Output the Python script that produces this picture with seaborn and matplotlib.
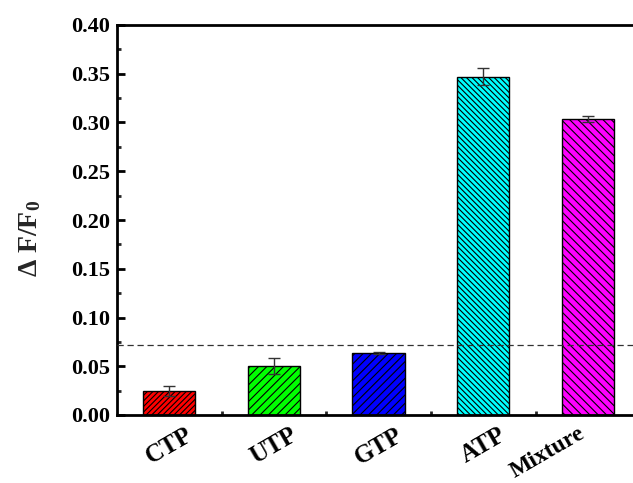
import matplotlib
matplotlib.use("Agg")
import matplotlib.pyplot as plt
import seaborn as sns
import pandas as pd
from matplotlib.ticker import MultipleLocator, FixedLocator, FormatStrFormatter

categories = ["CTP", "UTP", "GTP", "ATP", "Mixture"]
values = [0.025, 0.050, 0.064, 0.347, 0.304]
errors = [0.005, 0.008, 0.001, 0.009, 0.003]
colors = ["#ff0000", "#00ff00", "#0000ff", "#00ffff", "#ff00ff"]
hatches = ["//////", "////", "////", "\\\\\\\\\\\\", "\\\\\\\\"]
threshold = 0.072

sns.set_theme(style="ticks")
plt.rcParams["font.family"] = ["Liberation Serif", "DejaVu Serif"]
plt.rcParams["font.weight"] = "bold"
plt.rcParams["mathtext.fontset"] = "custom"
plt.rcParams["mathtext.rm"] = "Liberation Serif:bold"
plt.rcParams["mathtext.bf"] = "Liberation Serif:bold"
plt.rcParams["mathtext.it"] = "Liberation Serif:bold"
plt.rcParams["hatch.linewidth"] = 0.8

df = pd.DataFrame({"cat": categories, "val": values})

fig = plt.figure(figsize=(6.33, 4.83), dpi=100)
ax = fig.add_axes([117/633, 1-415/483, 1-117/633, (415-25)/483])

sns.barplot(data=df, x="cat", y="val", hue="cat", palette=colors, legend=False,
            width=0.5, ax=ax, edgecolor="black", linewidth=1.0, errorbar=None,
            saturation=1)
for p, h in zip(ax.patches, hatches):
    p.set_hatch(h)

ax.errorbar(range(len(categories)), values, yerr=errors, fmt="none",
            ecolor="#333333", elinewidth=1.0, capsize=4, capthick=1.0, zorder=5)

ax.axhline(threshold, ls=(0, (5, 3)), lw=0.9, color="#333333", zorder=6)

ax.yaxis.set_major_locator(MultipleLocator(0.05))
ax.yaxis.set_minor_locator(MultipleLocator(0.025))
ax.yaxis.set_major_formatter(FormatStrFormatter("%.2f"))
ax.xaxis.set_minor_locator(FixedLocator([0.5, 1.5, 2.5, 3.5]))
ax.set_xlim(-0.5, 4.43)
ax.set_ylim(0, 0.40)

ax.tick_params(axis="both", which="major", direction="in", length=6, width=2,
               top=False, right=False, colors="black")
ax.tick_params(axis="both", which="minor", direction="in", length=3, width=2,
               top=False, right=False)
ax.tick_params(axis="y", labelsize=16, pad=5)
ax.tick_params(axis="x", labelsize=18, pad=6)
for lab in ax.get_xticklabels():
    lab.set_rotation(30)
    lab.set_ha("center")
    lab.set_fontweight("bold")
ax.get_xticklabels()[-1].set_ha("right")
ax.get_xticklabels()[-1].set_x(4.43)
ax.get_xticklabels()[-1].set_fontsize(17)
for lab in ax.get_yticklabels():
    lab.set_fontweight("bold")

for s in ["left", "bottom", "top"]:
    ax.spines[s].set_linewidth(2)
    ax.spines[s].set_color("black")
ax.spines["right"].set_visible(False)

ax.set_xlabel("")
ax.set_ylabel(r"$\mathbf{\Delta}$ F/F$_\mathbf{0}$", fontsize=20, fontweight="bold")
ax.yaxis.set_label_coords(-0.143, 0.454)

fig.savefig("out.png", dpi=100)
